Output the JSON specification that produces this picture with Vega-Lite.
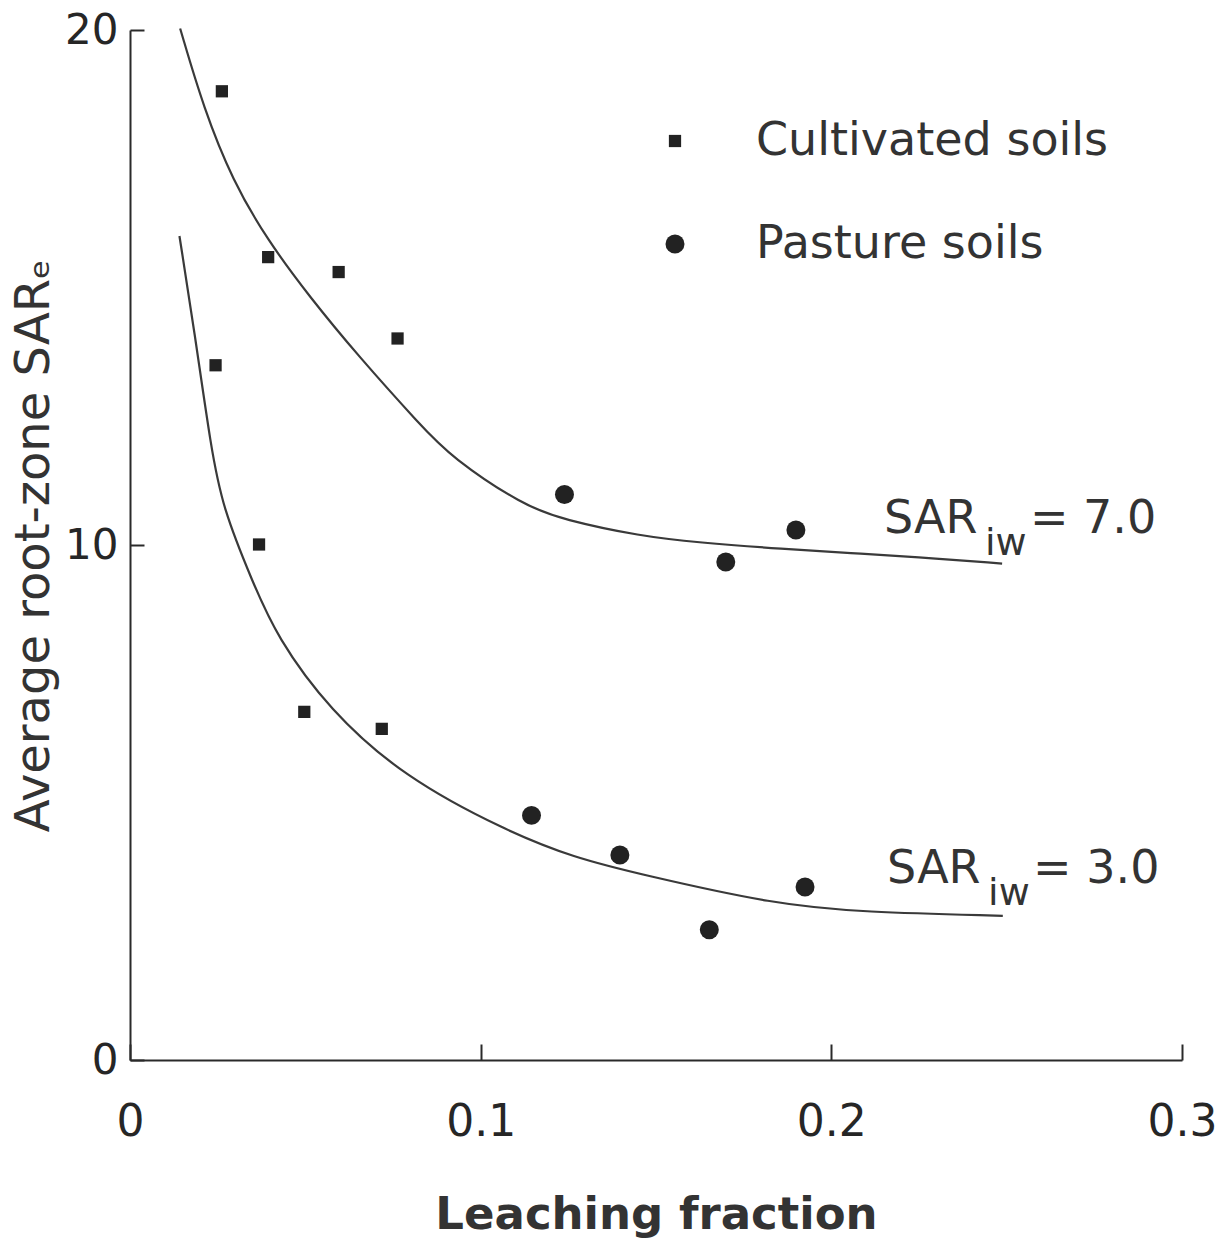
{
  "$schema": "https://vega.github.io/schema/vega-lite/v6.json",
  "autosize": "none",
  "width": 1052,
  "height": 1030,
  "padding": {"left": 130, "top": 30, "right": 39, "bottom": 184},
  "background": "white",
  "config": {
    "view": {"stroke": null},
    "font": "DejaVu Sans",
    "axis": {
      "grid": false,
      "domainColor": "#2a2a2a",
      "domainWidth": 2,
      "tickColor": "#2a2a2a",
      "tickWidth": 2,
      "labelFont": "DejaVu Sans",
      "labelColor": "#262626",
      "labelFlush": false,
      "titleFont": "DejaVu Sans",
      "titleColor": "#333333"
    },
    "legend": {
      "orient": "none",
      "legendX": 522,
      "legendY": 88,
      "labelFontSize": 46,
      "labelFont": "DejaVu Sans",
      "labelColor": "#333333",
      "labelOffset": 58,
      "labelLimit": 0,
      "rowPadding": 57,
      "symbolFillColor": "#222222",
      "symbolStrokeWidth": 0
    }
  },
  "datasets": {
    "points": [
      {"soil": "Cultivated soils", "lf": 0.0262, "sar": 18.81},
      {"soil": "Cultivated soils", "lf": 0.0394, "sar": 15.59},
      {"soil": "Cultivated soils", "lf": 0.0595, "sar": 15.30},
      {"soil": "Cultivated soils", "lf": 0.0763, "sar": 14.01},
      {"soil": "Cultivated soils", "lf": 0.0244, "sar": 13.49},
      {"soil": "Cultivated soils", "lf": 0.0368, "sar": 10.01},
      {"soil": "Cultivated soils", "lf": 0.0497, "sar": 6.76},
      {"soil": "Cultivated soils", "lf": 0.0718, "sar": 6.43},
      {"soil": "Pasture soils", "lf": 0.1239, "sar": 10.98},
      {"soil": "Pasture soils", "lf": 0.1699, "sar": 9.67},
      {"soil": "Pasture soils", "lf": 0.1899, "sar": 10.29},
      {"soil": "Pasture soils", "lf": 0.1145, "sar": 4.75},
      {"soil": "Pasture soils", "lf": 0.1397, "sar": 3.98},
      {"soil": "Pasture soils", "lf": 0.1652, "sar": 2.53},
      {"soil": "Pasture soils", "lf": 0.1925, "sar": 3.36}
    ],
    "curves": [
      {"curve": "SARiw 7.0", "lf": 0.0143, "sar": 20.03},
      {"curve": "SARiw 7.0", "lf": 0.0210, "sar": 18.48},
      {"curve": "SARiw 7.0", "lf": 0.0293, "sar": 17.07},
      {"curve": "SARiw 7.0", "lf": 0.0392, "sar": 15.92},
      {"curve": "SARiw 7.0", "lf": 0.0512, "sar": 14.82},
      {"curve": "SARiw 7.0", "lf": 0.0651, "sar": 13.67},
      {"curve": "SARiw 7.0", "lf": 0.0828, "sar": 12.33},
      {"curve": "SARiw 7.0", "lf": 0.0917, "sar": 11.70},
      {"curve": "SARiw 7.0", "lf": 0.1121, "sar": 10.77},
      {"curve": "SARiw 7.0", "lf": 0.1236, "sar": 10.49},
      {"curve": "SARiw 7.0", "lf": 0.1457, "sar": 10.17},
      {"curve": "SARiw 7.0", "lf": 0.1617, "sar": 10.05},
      {"curve": "SARiw 7.0", "lf": 0.1866, "sar": 9.92},
      {"curve": "SARiw 7.0", "lf": 0.2058, "sar": 9.84},
      {"curve": "SARiw 7.0", "lf": 0.2238, "sar": 9.77},
      {"curve": "SARiw 7.0", "lf": 0.2487, "sar": 9.64},
      {"curve": "SARiw 3.0", "lf": 0.0141, "sar": 16.00},
      {"curve": "SARiw 3.0", "lf": 0.0184, "sar": 14.14},
      {"curve": "SARiw 3.0", "lf": 0.0231, "sar": 11.88},
      {"curve": "SARiw 3.0", "lf": 0.0265, "sar": 10.71},
      {"curve": "SARiw 3.0", "lf": 0.0348, "sar": 9.31},
      {"curve": "SARiw 3.0", "lf": 0.0419, "sar": 8.21},
      {"curve": "SARiw 3.0", "lf": 0.0568, "sar": 6.80},
      {"curve": "SARiw 3.0", "lf": 0.0782, "sar": 5.49},
      {"curve": "SARiw 3.0", "lf": 0.1072, "sar": 4.45},
      {"curve": "SARiw 3.0", "lf": 0.1266, "sar": 3.93},
      {"curve": "SARiw 3.0", "lf": 0.1459, "sar": 3.60},
      {"curve": "SARiw 3.0", "lf": 0.1841, "sar": 3.02},
      {"curve": "SARiw 3.0", "lf": 0.2089, "sar": 2.87},
      {"curve": "SARiw 3.0", "lf": 0.2489, "sar": 2.80}
    ],
    "labels": [
      {"curve": "SARiw 7.0", "lf": 0.2150, "sar": 10.24, "rest": "= 7.0"},
      {"curve": "SARiw 3.0", "lf": 0.2159, "sar": 3.44, "rest": "= 3.0"}
    ]
  },
  "layer": [
    {
      "data": {"name": "curves"},
      "mark": {"type": "line", "interpolate": "basis", "color": "#3a3a3a", "strokeWidth": 2.2},
      "encoding": {
        "x": {
          "field": "lf", "type": "quantitative",
          "scale": {"domain": [0, 0.3], "nice": false},
          "axis": {
            "values": [0, 0.1, 0.2, 0.3],
            "format": ".1~f",
            "tickSize": -16,
            "labelPadding": 56,
            "labelFontSize": 44,
            "title": "Leaching fraction",
            "titleFontSize": 45,
            "titleFontWeight": "bold",
            "titlePadding": 48
          }
        },
        "y": {
          "field": "sar", "type": "quantitative",
          "scale": {"domain": [0, 20], "nice": false},
          "axis": {
            "values": [0, 10, 20],
            "tickSize": -14,
            "labelPadding": 26,
            "labelFontSize": 42,
            "title": "Average root-zone SARₑ",
            "titleFontSize": 48,
            "titleFontWeight": "normal",
            "titlePadding": 6
          }
        },
        "detail": {"field": "curve"},
        "order": {"field": "lf", "type": "quantitative"}
      }
    },
    {
      "data": {"name": "points"},
      "mark": {"type": "point", "filled": true, "color": "#222222", "opacity": 1},
      "encoding": {
        "x": {"field": "lf", "type": "quantitative"},
        "y": {"field": "sar", "type": "quantitative"},
        "shape": {
          "field": "soil", "type": "nominal",
          "scale": {"domain": ["Cultivated soils", "Pasture soils"], "range": ["square", "circle"]},
          "legend": {"title": null}
        },
        "size": {
          "field": "soil", "type": "nominal",
          "scale": {"domain": ["Cultivated soils", "Pasture soils"], "range": [150, 360]},
          "legend": {"title": null}
        }
      }
    },
    {
      "data": {"name": "labels"},
      "mark": {"type": "text", "text": "SAR", "align": "left", "baseline": "alphabetic", "fontSize": 46, "font": "DejaVu Sans", "color": "#333333"},
      "encoding": {
        "x": {"field": "lf", "type": "quantitative"},
        "y": {"field": "sar", "type": "quantitative"}
      }
    },
    {
      "data": {"name": "labels"},
      "mark": {"type": "text", "text": "iw", "align": "left", "baseline": "alphabetic", "dx": 101, "dy": 22, "fontSize": 38, "font": "DejaVu Sans", "color": "#333333"},
      "encoding": {
        "x": {"field": "lf", "type": "quantitative"},
        "y": {"field": "sar", "type": "quantitative"}
      }
    },
    {
      "data": {"name": "labels"},
      "mark": {"type": "text", "align": "left", "baseline": "alphabetic", "dx": 146, "fontSize": 46, "font": "DejaVu Sans", "color": "#333333"},
      "encoding": {
        "x": {"field": "lf", "type": "quantitative"},
        "y": {"field": "sar", "type": "quantitative"},
        "text": {"field": "rest", "type": "nominal"}
      }
    }
  ]
}
